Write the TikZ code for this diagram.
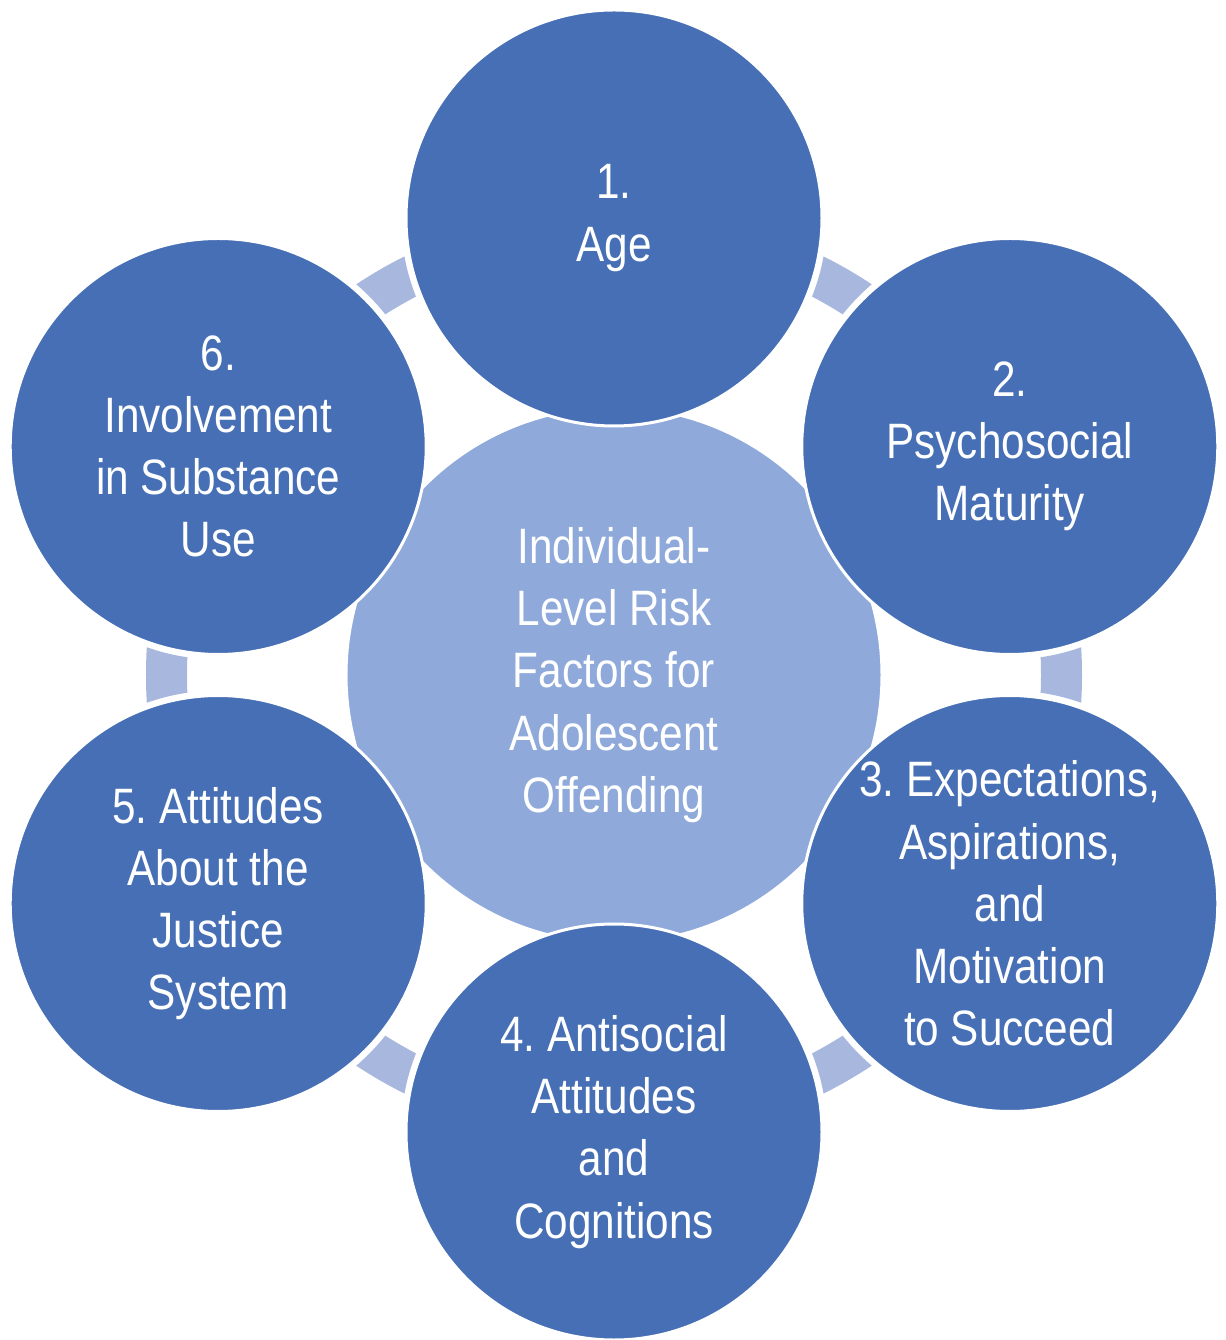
\documentclass[tikz,border=0pt]{standalone}
\usepackage{fontspec}
\setmainfont[FakeStretch=0.85]{Liberation Sans}
\frenchspacing
\definecolor{outerblue}{RGB}{71,111,181}
\definecolor{innerblue}{RGB}{143,170,218}
\definecolor{linkblue}{RGB}{168,183,222}
\tikzset{
  factor/.style={circle,draw=white,line width=0.06cm,fill=outerblue,minimum size=8.32cm,inner sep=0pt,
    text=white,align=center,font=\fontsize{28.3pt}{35.4pt}\selectfont},
  hub/.style={factor,fill=innerblue,minimum size=10.72cm},
  link/.style={draw=linkblue,line width=0.82cm}
}
\begin{document}
\begin{tikzpicture}
        \useasboundingbox (-12.28,-13.3) rectangle (12.22,13.5);
        %% Centre
        \node[hub] (hub) at (0,0) {Individual-\\Level Risk\\Factors for\\Adolescent\\Offending};
        %% Factors round the centre
        \node[factor] (f1) at (90:9.14) {1.\\Age};
        \node[factor] (f2) at (30:9.14) {2.\\Psychosocial\\Maturity};
        \node[factor] (f3) at (-30:9.14) {3. Expectations,\\Aspirations,\\and\\Motivation\\to Succeed};
        \node[factor] (f4) at (-90:9.14) {4. Antisocial\\Attitudes\\and\\Cognitions};
        \node[factor] (f5) at (-150:9.14) {5. Attitudes\\About the\\Justice\\System};
        \node[factor] (f6) at (150:9.14) {6.\\Involvement\\in Substance\\Use};
        %% Ring pieces between the factors
        \begin{scope}[even odd rule]
            \clip (-12.28,-13.3) rectangle (12.22,13.5)
                (f1) circle (4.26) (f2) circle (4.26) (f3) circle (4.26)
                (f4) circle (4.26) (f5) circle (4.26) (f6) circle (4.26);
            \draw[link] (hub) circle (8.95);
        \end{scope}
    \end{tikzpicture}
\end{document}
